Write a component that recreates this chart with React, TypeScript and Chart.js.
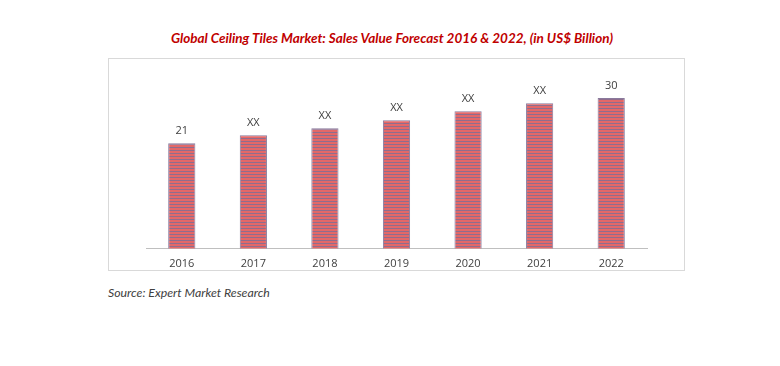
import React, { useEffect, useRef } from "react";
import { Chart, registerables } from "chart.js";

Chart.register(...registerables);

const categories = ["2016", "2017", "2018", "2019", "2020", "2021", "2022"];
const values = [21, 22.6, 24, 25.6, 27.4, 29, 30];
const valueLabels = ["21", "XX", "XX", "XX", "XX", "XX", "30"];
const titleText = "Global Ceiling Tiles Market: Sales Value Forecast 2016 & 2022, (in US$ Billion)";
const sourceText = "Source: Expert Market Research";

function makePattern(ctx: CanvasRenderingContext2D) {
  const c = document.createElement("canvas");
  c.width = 4;
  c.height = 3;
  const p = c.getContext("2d")!;
  p.fillStyle = "#e36868";
  p.fillRect(0, 0, 4, 3);
  p.fillStyle = "#8f6d8e";
  p.fillRect(0, 2, 4, 1);
  return ctx.createPattern(c, "repeat")!;
}

const labelPlugin = {
  id: "valueLabels",
  afterDatasetsDraw(chart: any) {
    const ctx = chart.ctx;
    const meta = chart.getDatasetMeta(0);
    ctx.save();
    ctx.font = "11px 'Open Sans', sans-serif";
    ctx.fillStyle = "#404040";
    ctx.textAlign = "center";
    ctx.textBaseline = "middle";
    meta.data.forEach((bar: any, i: number) => {
      ctx.fillText(valueLabels[i], bar.x, bar.y - 12);
    });
    ctx.restore();
  },
};

export default function App() {
  const ref = useRef<HTMLCanvasElement>(null);
  useEffect(() => {
    const canvas = ref.current!;
    const ctx = canvas.getContext("2d")!;
    const chart = new Chart(ctx, {
      type: "bar",
      data: {
        labels: categories,
        datasets: [
          {
            data: values,
            backgroundColor: makePattern(ctx),
            borderColor: "#8a7a9c",
            borderWidth: 1,
            barPercentage: 0.38,
            categoryPercentage: 1,
          },
        ],
      },
      options: {
        animation: false,
        responsive: false,
        maintainAspectRatio: false,
        layout: { padding: { left: 38, right: 38, top: 15, bottom: 0 } },
        plugins: { legend: { display: false }, tooltip: { enabled: false }, title: { display: false } },
        scales: {
          x: {
            grid: { display: true, drawOnChartArea: false, drawTicks: false, color: "rgba(0,0,0,0)" },
            border: { display: true, color: "#bfbfbf", width: 1 },
            ticks: { color: "#404040", font: { family: "'Open Sans', sans-serif", size: 11 }, padding: 8 },
          },
          y: {
            display: false,
            min: 0,
            max: 35,
          },
        },
      },
      plugins: [labelPlugin],
    });
    return () => chart.destroy();
  }, []);

  return (
    <div style={{ position: "absolute", left: 0, top: 0, width: 780, height: 366, background: "#fff" }}>
      <div
        style={{
          position: "absolute",
          left: 0,
          width: 780,
          top: 29,
          textAlign: "center",
          paddingLeft: 2,
          color: "#c00000",
          fontFamily: "Lato, sans-serif",
          fontStyle: "italic",
          fontWeight: "bold",
          fontSize: 13.5,
          lineHeight: "18px",
          whiteSpace: "nowrap",
        }}
      >
        {titleText}
      </div>
      <div
        style={{
          position: "absolute",
          left: 108,
          top: 58,
          width: 575,
          height: 211,
          border: "1px solid #d9d9d9",
        }}
      />
      <canvas
        ref={ref}
        width={577}
        height={220}
        style={{ position: "absolute", left: 108, top: 58, width: 577, height: 220 }}
      />
      <div
        style={{
          position: "absolute",
          left: 108,
          top: 285,
          color: "#404040",
          fontFamily: "Lato, sans-serif",
          fontStyle: "italic",
          fontSize: 12.3,
          lineHeight: "16px",
          whiteSpace: "nowrap",
        }}
      >
        {sourceText}
      </div>
    </div>
  );
}
